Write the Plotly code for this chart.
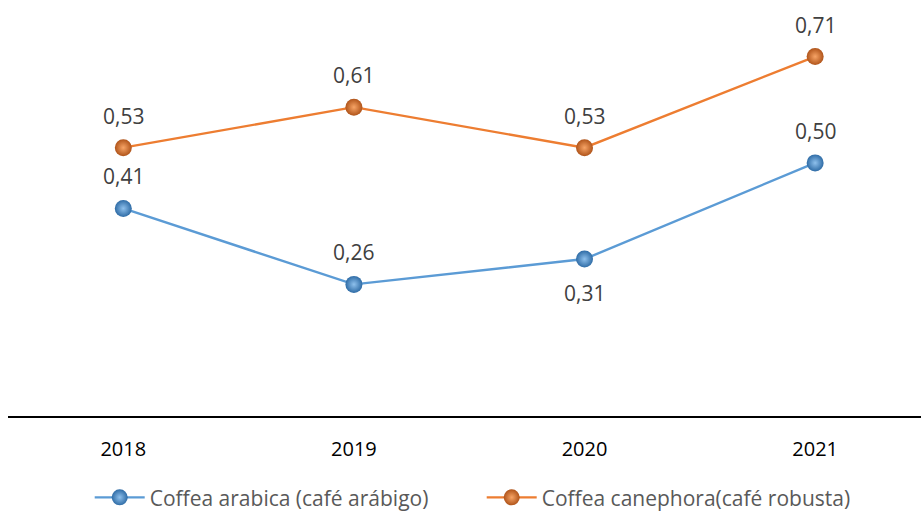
import plotly.graph_objects as go

years = ["2018", "2019", "2020", "2021"]
arabica = [0.41, 0.26, 0.31, 0.50]
robusta = [0.53, 0.61, 0.53, 0.71]
arabica_label_pos = ["above", "above", "below", "above"]
robusta_label_pos = ["above", "above", "above", "above"]

blue = "#5B9BD5"
orange = "#ED7D31"
xs = list(range(len(years)))

fig = go.Figure()
fig.add_trace(go.Scatter(
    x=xs, y=arabica, mode="lines+markers", name="Coffea arabica (café arábigo)",
    line=dict(color=blue, width=2.4),
    marker=dict(size=17, color="#2F6CA6", gradient=dict(type="radial", color="#8EC0EC"),
                line=dict(width=0)),
))
fig.add_trace(go.Scatter(
    x=xs, y=robusta, mode="lines+markers", name="Coffea canephora(café robusta)",
    line=dict(color=orange, width=2.4),
    marker=dict(size=17, color="#B0541A", gradient=dict(type="radial", color="#F7A466"),
                line=dict(width=0)),
))

def fmt(v):
    return f"{v:.2f}".replace(".", ",")

for vals, pos in ((arabica, arabica_label_pos), (robusta, robusta_label_pos)):
    for x, v, p in zip(xs, vals, pos):
        fig.add_annotation(x=x, y=v, text=fmt(v), showarrow=False,
                           yshift=32 if p == "above" else -34,
                           font=dict(size=21, color="#404040", family="Open Sans"))

fig.update_layout(
    width=921, height=511,
    margin=dict(l=8, r=0, t=11, b=95),
    paper_bgcolor="white", plot_bgcolor="white",
    showlegend=True,
    legend=dict(orientation="h", yref="container", y=0.026, yanchor="middle",
                xref="container", x=0.0974, xanchor="left",
                font=dict(size=21, color="#595959", family="Open Sans"),
                itemwidth=50, entrywidth=327, entrywidthmode="pixels"),
    font=dict(family="Open Sans"),
)
fig.update_xaxes(
    range=[-0.5, 3.459], tickmode="array", tickvals=xs, ticktext=years,
    showgrid=False, zeroline=False, showline=True, linecolor="black", linewidth=2,
    ticks="outside", ticklen=14, tickcolor="rgba(0,0,0,0)",
    tickfont=dict(size=20, color="black", family="Open Sans"),
)
fig.update_yaxes(range=[0, 0.8], visible=False)

fig.write_html("out.html", config={"displayModeBar": False},
               post_script="document.body.style.margin='0';document.body.style.overflow='hidden';")
